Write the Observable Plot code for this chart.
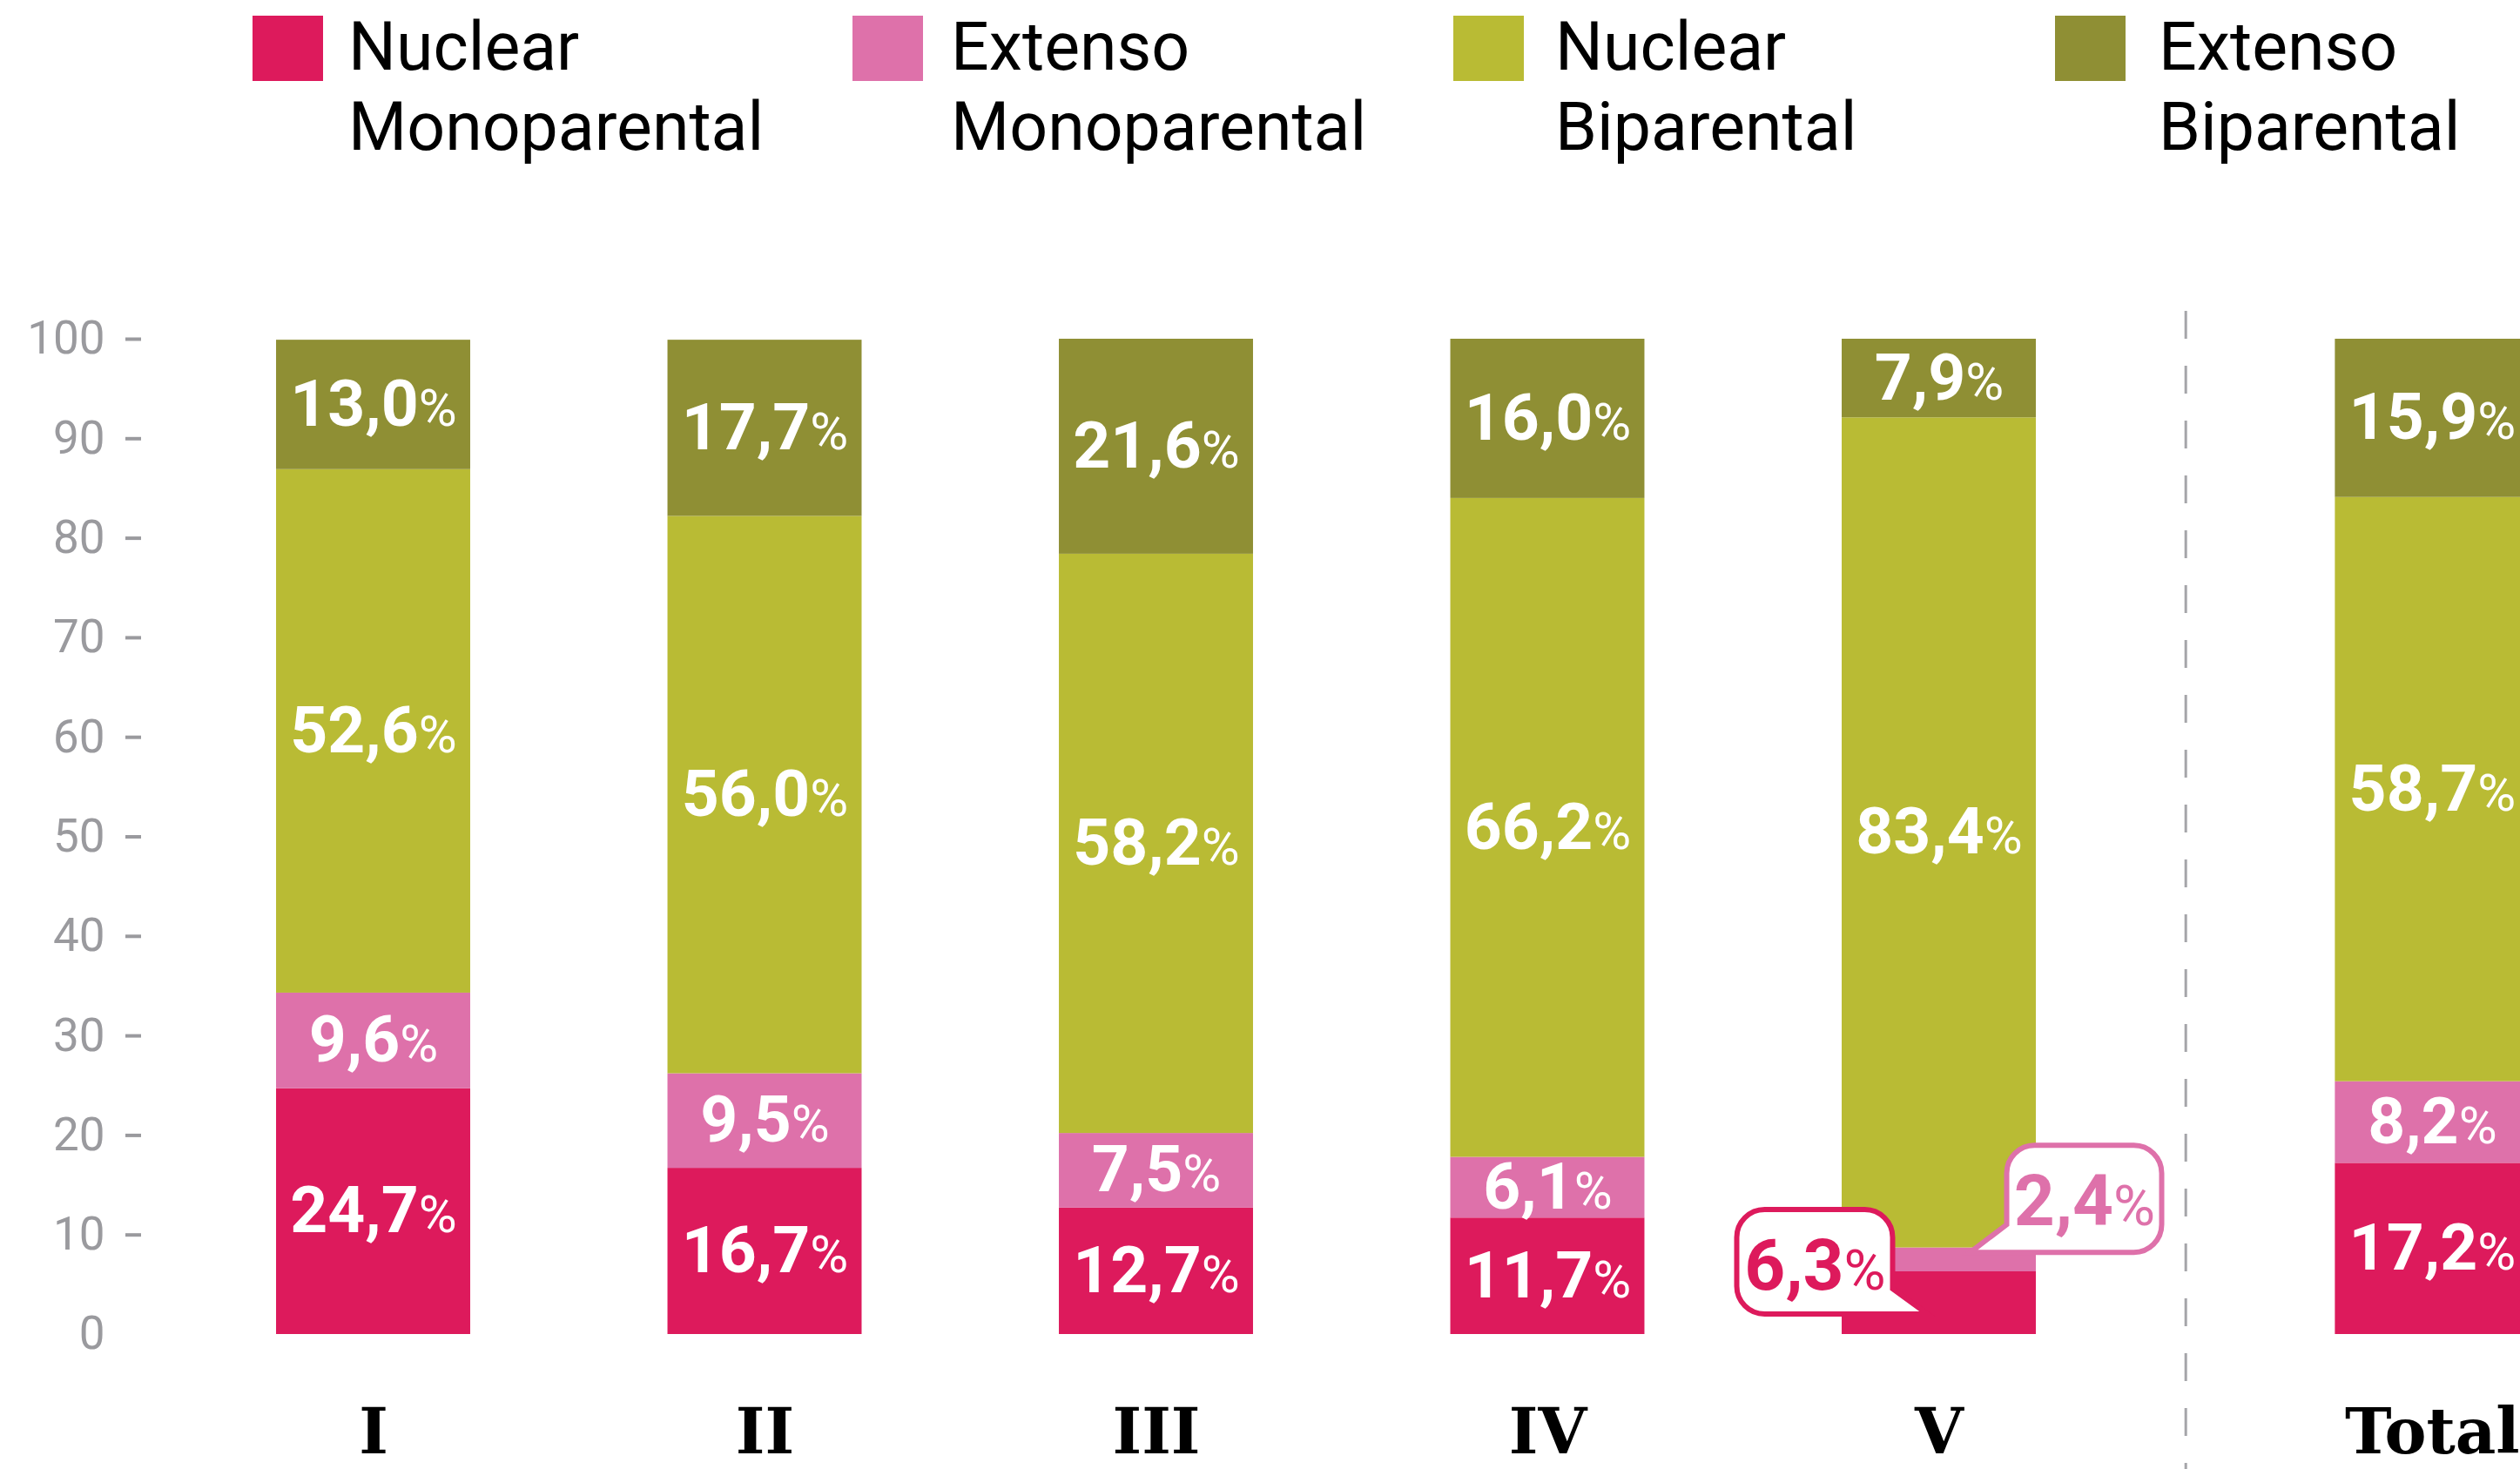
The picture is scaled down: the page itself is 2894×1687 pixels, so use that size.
<!DOCTYPE html>
<html>
<head>
<meta charset="utf-8">
<script src="https://cdn.jsdelivr.net/npm/d3@7"></script>
<script src="https://cdn.jsdelivr.net/npm/@observablehq/plot@0.6"></script>
<style>
  html, body { margin: 0; padding: 0; background: #fff; overflow: hidden; }
  #wrap { position: relative; width: 2894px; height: 1687px; }
  #legend { position: relative; width: 2894px; height: 200px; font-family: Roboto, sans-serif; }
  .sw { position: absolute; top: 18px; width: 81px; height: 75px; }
  .lt { position: absolute; top: 8px; font-size: 77px; line-height: 92px; color: #000; white-space: nowrap; }
  svg { overflow: hidden; display: block; }
</style>
</head>
<body>
<div id="wrap">
  <div id="legend"></div>
  <div id="chart"></div>
</div>
<script>
// ---- data ----
const categories = ["I", "II", "III", "IV", "V", "Total"];
const types = ["Nuclear Monoparental", "Extenso Monoparental", "Nuclear Biparental", "Extenso Biparental"];
const legendLines = [["Nuclear", "Monoparental"], ["Extenso", "Monoparental"], ["Nuclear", "Biparental"], ["Extenso", "Biparental"]];
const nuclearMono = [24.7, 16.7, 12.7, 11.7, 6.3, 17.2];
const extensoMono = [9.6, 9.5, 7.5, 6.1, 2.4, 8.2];
const nuclearBi   = [52.6, 56.0, 58.2, 66.2, 83.4, 58.7];
const extensoBi   = [13.0, 17.7, 21.6, 16.0, 7.9, 15.9];
const colors = ["#dd1a5c", "#de71aa", "#b9bb34", "#8f8f34"];
const yTicks = [0, 10, 20, 30, 40, 50, 60, 70, 80, 90, 100];
const calloutCategory = "V";

// ---- derived table ----
const series = [nuclearMono, extensoMono, nuclearBi, extensoBi];
const posOf = (cat, i) => i + (cat === "Total" ? 0.26 : 0);
const positions = categories.map(posOf);
const catByPos = new Map(positions.map((p, i) => [p, categories[i]]));
const fmt = v => v.toFixed(1).replace(".", ",") + "%";

const rows = [];
categories.forEach((cat, i) => {
  let acc = 0;
  types.forEach((type, j) => {
    const v = series[j][i];
    rows.push({cat, pos: positions[i], type, ti: j, value: v, y1: acc, y2: acc + v, label: fmt(v)});
    acc += v;
  });
});
const isCallout = d => d.cat === calloutCategory && d.ti < 2;
const labelRows = rows.filter(d => !isCallout(d));
const leftCallouts = rows.filter(d => isCallout(d) && d.ti === 0);
const rightCallouts = rows.filter(d => isCallout(d) && d.ti === 1);
const dividerPos = (positions[4] + positions[5]) / 2;
const halfBar = 0.248;

// ---- legend (HTML) ----
const swLeft = [290, 979, 1669, 2360];
const txtLeft = [400, 1092, 1786, 2479];
const legend = document.getElementById("legend");
types.forEach((t, j) => {
  const s = document.createElement("div");
  s.className = "sw"; s.style.left = swLeft[j] + "px"; s.style.background = colors[j];
  legend.appendChild(s);
  const tx = document.createElement("div");
  tx.className = "lt"; tx.style.left = txtLeft[j] + "px";
  tx.innerHTML = legendLines[j].join("<br>");
  legend.appendChild(tx);
});

// ---- callout bubbles (render function using Plot scales) ----
function bubbles(index, scales) {
  const g = d3.create("svg:g").attr("aria-label", "callouts");
  const r = 32;
  for (const d of leftCallouts) {
    const xc = scales.x(d.pos);
    const B = scales.y(d.y1) - 23, T = B - 120;
    const L = xc - 232, R = xc - 53, tipX = xc - 13;
    const p = `M${L + r},${T}H${R - r}A${r},${r} 0 0 1 ${R},${T + r}V${B - 29}L${tipX},${B}H${L + r}A${r},${r} 0 0 1 ${L},${B - r}V${T + r}A${r},${r} 0 0 1 ${L + r},${T}Z`;
    g.append("path").attr("d", p).attr("fill", "white").attr("stroke", colors[d.ti]).attr("stroke-width", 6).attr("stroke-linejoin", "miter");
  }
  for (const d of rightCallouts) {
    const xc = scales.x(d.pos);
    const B = scales.y((d.y1 + d.y2) / 2) - 8, T = B - 123;
    const L = xc + 78, R = xc + 256, tipX = xc + 36;
    const p = `M${L + r},${T}H${R - r}A${r},${r} 0 0 1 ${R},${T + r}V${B - r}A${r},${r} 0 0 1 ${R - r},${B}H${tipX}L${L},${B - 32}V${T + r}A${r},${r} 0 0 1 ${L + r},${T}Z`;
    g.append("path").attr("d", p).attr("fill", "white").attr("stroke", colors[d.ti]).attr("stroke-width", 6).attr("stroke-linejoin", "miter");
  }
  return g.node();
}

// ---- chart ----
const chart = Plot.plot({
  width: 2894,
  height: 1487,
  marginLeft: 162,
  marginRight: 0,
  marginTop: 189,
  marginBottom: 155,
  style: {fontFamily: "Roboto, sans-serif", background: "white"},
  x: {type: "linear", domain: [-0.5929, 5.485], label: null},
  y: {domain: [0, 100], label: null},
  color: {domain: types, range: colors},
  marks: [
    Plot.rect(rows, {x1: d => d.pos - halfBar, x2: d => d.pos + halfBar, y1: "y1", y2: "y2", fill: "type"}),
    Plot.text(labelRows, {x: "pos", y: d => (d.y1 + d.y2) / 2, text: "label", fill: "white",
      fontSize: 75, fontWeight: "bold", fontFamily: "Roboto", lineAnchor: "middle"}),
    bubbles,
    Plot.text(leftCallouts, {x: "pos", y: "y1", text: "label", fill: "type", dx: -142.5, dy: -52,
      fontSize: 82, fontWeight: "bold", fontFamily: "Roboto", lineAnchor: "bottom"}),
    Plot.text(rightCallouts, {x: "pos", y: d => (d.y1 + d.y2) / 2, text: "label", fill: "type", dx: 167, dy: -40,
      fontSize: 82, fontWeight: "bold", fontFamily: "Roboto", lineAnchor: "bottom"}),
    Plot.ruleX([dividerPos], {y1: 102.8, y2: -14, stroke: "#a5a5a9", strokeWidth: 3, strokeDasharray: "32,31"}),
    Plot.axisY({ticks: yTicks.filter(d => d > 0), tickSize: 18, tickFormat: () => "", stroke: "#9a9a9e", strokeWidth: 4}),
    Plot.axisY({ticks: yTicks, tickSize: 0, tickPadding: 42, fontSize: 53, fill: "#9a9a9e", fontFamily: "Roboto"}),
    Plot.axisX({ticks: positions, tickFormat: d => catByPos.get(d), tickSize: 0, tickPadding: 85,
      fontSize: 72, fontWeight: "bold", fontFamily: "DejaVu Serif", fill: "#000"})
  ]
});

// smaller, lighter percent sign
d3.select(chart).selectAll("text").each(function() {
  const s = this.textContent;
  if (!s || !s.endsWith("%")) return;
  const num = s.slice(0, -1);
  const sel = d3.select(this);
  sel.text(null);
  sel.append("tspan").text(num);
  sel.append("tspan").attr("font-size", "0.8em").attr("font-weight", "400").text("%");
});

document.getElementById("chart").appendChild(chart);
</script>
</body>
</html>
